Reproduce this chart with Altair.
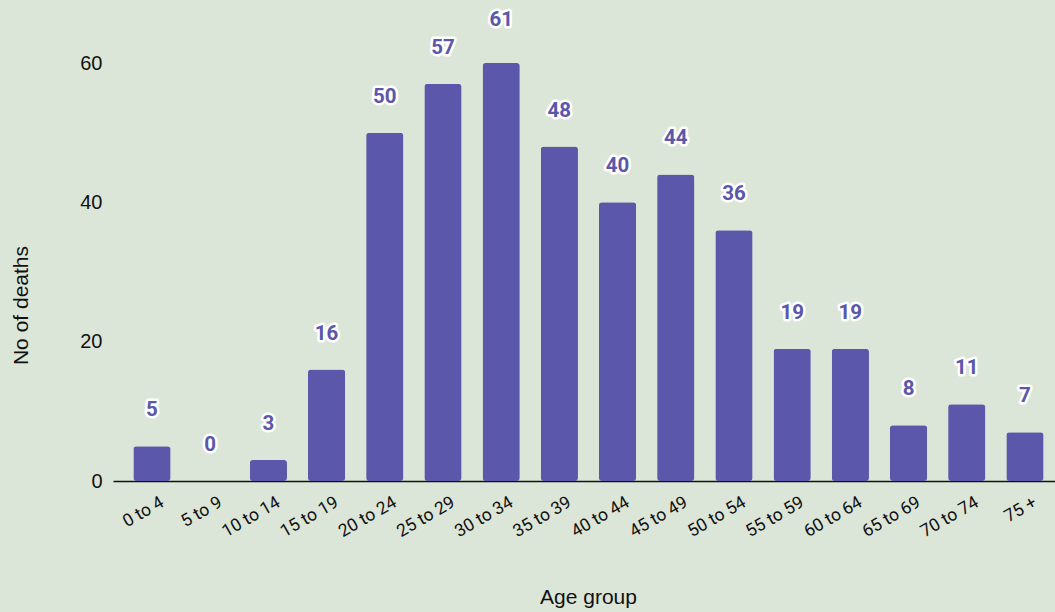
import altair as alt
import pandas as pd

# Deaths by age group
age_groups = ["0 to 4", "5 to 9", "10 to 14", "15 to 19", "20 to 24", "25 to 29",
              "30 to 34", "35 to 39", "40 to 44", "45 to 49", "50 to 54", "55 to 59",
              "60 to 64", "65 to 69", "70 to 74", "75 +"]
deaths = [5, 0, 3, 16, 50, 57, 61, 48, 40, 44, 36, 19, 19, 8, 11, 7]
y_ticks = [0, 20, 40, 60]

df = pd.DataFrame({"age": age_groups, "deaths": deaths})

BAR = "#5B57AA"
BG = "#DCE6D8"

x_enc = alt.X(
    "age:N",
    sort=age_groups,
    title="Age group",
    scale=alt.Scale(paddingInner=0.36, paddingOuter=0.273, align=0.64),
    axis=alt.Axis(
        labelAngle=-30, labelAlign="right", labelBaseline="top",
        labelPadding=12, labelOffset=6, ticks=False,
        labelFont="Roboto", labelFontSize=17.5, labelColor="#111111",
        domainColor="#111111", domainWidth=1.5,
        titleFont="Liberation Sans", titleFontSize=21, titleFontWeight="normal",
        titleColor="#111111", titleX=475, titleY=116,
        titleAlign="center", titleBaseline="middle",
    ),
)

# Bars stop at the top of the axis range (values above it are clamped)
bars = alt.Chart(df).mark_bar(fill=BAR, cornerRadius=3).encode(
    x=x_enc,
    y=alt.Y(
        "deaths:Q",
        scale=alt.Scale(domain=[0, 60], nice=False, zero=True, clamp=True),
        title="No of deaths",
        axis=alt.Axis(
            values=y_ticks, grid=False, domain=False, ticks=False,
            labelPadding=11, labelFont="Liberation Sans", labelFontSize=20,
            labelColor="#111111",
            titleFont="Liberation Sans", titleFontSize=21, titleFontWeight="normal",
            titleColor="#111111", titleX=-92, titleY=242,
            titleAlign="center", titleBaseline="middle", titleAngle=-90,
        ),
    ),
)

label_scale = alt.Scale(domain=[0, 60], nice=False, zero=True)
label_base = alt.Chart(df).encode(
    x=alt.X("age:N", sort=age_groups),
    y=alt.Y("deaths:Q", scale=label_scale, axis=None),
    text=alt.Text("deaths:Q"),
)

halo = label_base.mark_text(
    font="Roboto", fontSize=20.5, fontWeight="bold", dy=-36, baseline="middle",
    color="white", stroke="white", strokeWidth=5, strokeJoin="round",
)
labels = label_base.mark_text(
    font="Roboto", fontSize=20.5, fontWeight="bold", dy=-36, baseline="middle",
    color=BAR,
)

chart = alt.layer(bars, alt.layer(halo, labels)).resolve_scale(
    y="independent"
).properties(
    width=942,
    height=418,
    background=BG,
    autosize=alt.AutoSizeParams(type="none"),
    padding={"left": 113, "top": 63, "right": 0, "bottom": 131},
).configure_view(stroke=None)

chart.save("out.html", embed_options={"renderer": "svg", "actions": False})
